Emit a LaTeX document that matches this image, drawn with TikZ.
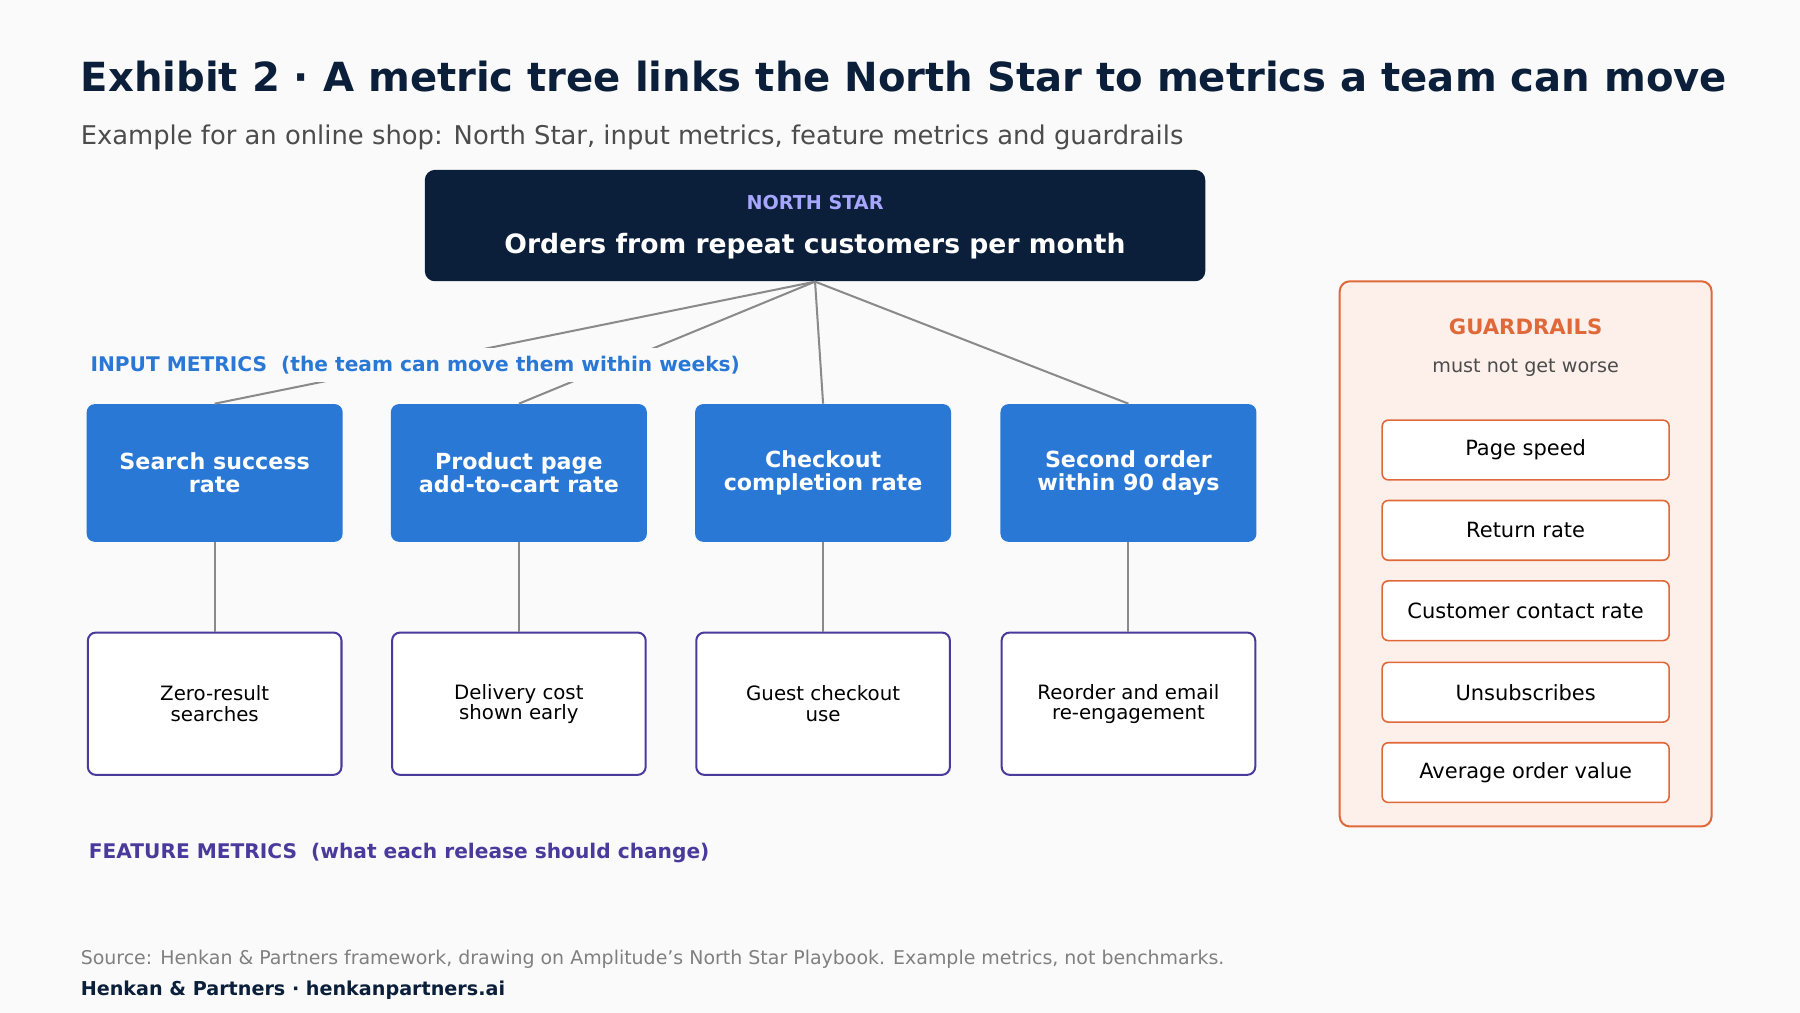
\documentclass[tikz,border=0pt]{standalone}
\usepackage{fontspec}
\setmainfont{DejaVu Sans}[Ligatures=ResetAll]
\definecolor{navy}{HTML}{0B1F3A}
\definecolor{inblue}{HTML}{2A78D6}
\definecolor{feat}{HTML}{4A3A9C}
\definecolor{guard}{HTML}{E0693A}
\definecolor{guardbg}{HTML}{FDF0EA}
\definecolor{bg}{HTML}{FAFAFA}
\definecolor{link}{HTML}{8A8A8A}
\tikzset{
  inbox/.style={rounded corners=4pt, fill=inblue, text=white, font=\bfseries\fontsize{11}{11.5}\selectfont,
    minimum width=4.46cm, minimum height=2.4cm, align=center, inner sep=0pt},
  featbox/.style={rounded corners=4pt, draw=feat, line width=1pt, fill=white, font=\fontsize{9.8}{10}\selectfont,
    minimum width=4.42cm, minimum height=2.48cm, align=center, inner sep=0pt},
  gbox/.style={rounded corners=3pt, draw=guard, line width=0.8pt, fill=white, font=\fontsize{10.4}{11}\selectfont,
    minimum width=5cm, minimum height=1.04cm, inner sep=0pt},
  link/.style={draw=link, line width=1pt},
  lbl/.style={anchor=west, inner sep=0pt, font=\bfseries\fontsize{10}{11}\selectfont}
}
\begin{document}
\begin{tikzpicture}[x=0.02cm, y=-0.02cm]
  \fill[bg] (0,0) rectangle (1568,882);
  \useasboundingbox (0,0) rectangle (1568,882);
  % heading
  \node[anchor=west, inner sep=0pt, text=navy, font=\bfseries\fontsize{19.9}{22}\selectfont] (title) at (70,67)
    {Exhibit 2 · A metric tree links the North Star to metrics a team can move};
  \node[anchor=west, inner sep=0pt, text=black!70, font=\fontsize{12.8}{14}\selectfont] (sub) at (70,120)
    {Example for an online shop: North Star, input metrics, feature metrics and guardrails};
  % north star
  \node[rounded corners=5pt, fill=navy, minimum width=13.6cm, minimum height=1.94cm] (ns) at (710,196.5) {};
  \node[text=blue!35!white, font=\bfseries\fontsize{9.5}{10}\selectfont] (nslbl) at (710,176) {NORTH STAR};
  \node[text=white, font=\bfseries\fontsize{13.2}{15}\selectfont] (nstxt) at (710,214) {Orders from repeat customers per month};
  % input metrics
  \node[inbox] (in1) at (187,412) {Search success\\rate};
  \node[inbox] (in2) at (452,412) {Product page\\add-to-cart rate};
  \node[inbox] (in3) at (717,412) {Checkout\\completion rate};
  \node[inbox] (in4) at (983,412) {Second order\\within 90 days};
  \foreach \i in {1,...,4}
    \draw[link] (ns.south) -- (in\i.north);
  \node[lbl, text=inblue, fill=bg, inner xsep=2pt, inner ysep=4pt] (inlbl) at (75,318) {INPUT METRICS\ \ (the team can move them within weeks)};
  % feature metrics
  \node[featbox] (ft1) at (187,613) {Zero-result\\searches};
  \node[featbox] (ft2) at (452,613) {Delivery cost\\shown early};
  \node[featbox] (ft3) at (717,613) {Guest checkout\\use};
  \node[featbox] (ft4) at (983,613) {Reorder and email\\re-engagement};
  \foreach \i in {1,...,4}
    \draw[link] (in\i.south) -- (ft\i.north);
  \node[lbl, text=feat] (ftlbl) at (77,743) {FEATURE METRICS\ \ (what each release should change)};
  % guardrails
  \node[rounded corners=5pt, draw=guard, line width=1pt, fill=guardbg, minimum width=6.48cm, minimum height=9.5cm] (gr) at (1329,482.5) {};
  \node[text=guard, font=\bfseries\fontsize{10.5}{11}\selectfont] (grlbl) at (1329,285) {GUARDRAILS};
  \node[text=black!70, font=\fontsize{9.5}{10}\selectfont] (grsub) at (1329,320) {must not get worse};
  \node[gbox] (g1) at (1329,392) {Page speed};
  \node[gbox] (g2) at (1329,462) {Return rate};
  \node[gbox] (g3) at (1329,532) {Customer contact rate};
  \node[gbox] (g4) at (1329,603) {Unsubscribes};
  \node[gbox] (g5) at (1329,673) {Average order value};
  % footer
  \node[anchor=west, inner sep=0pt, text=black!50, font=\fontsize{9.4}{10}\selectfont] (src) at (70,836)
    {Source: Henkan \& Partners framework, drawing on Amplitude's North Star Playbook. Example metrics, not benchmarks.};
  \node[anchor=west, inner sep=0pt, text=navy, font=\bfseries\fontsize{9.5}{10}\selectfont] (foot) at (70,863)
    {Henkan \& Partners · henkanpartners.ai};
\end{tikzpicture}
\end{document}
